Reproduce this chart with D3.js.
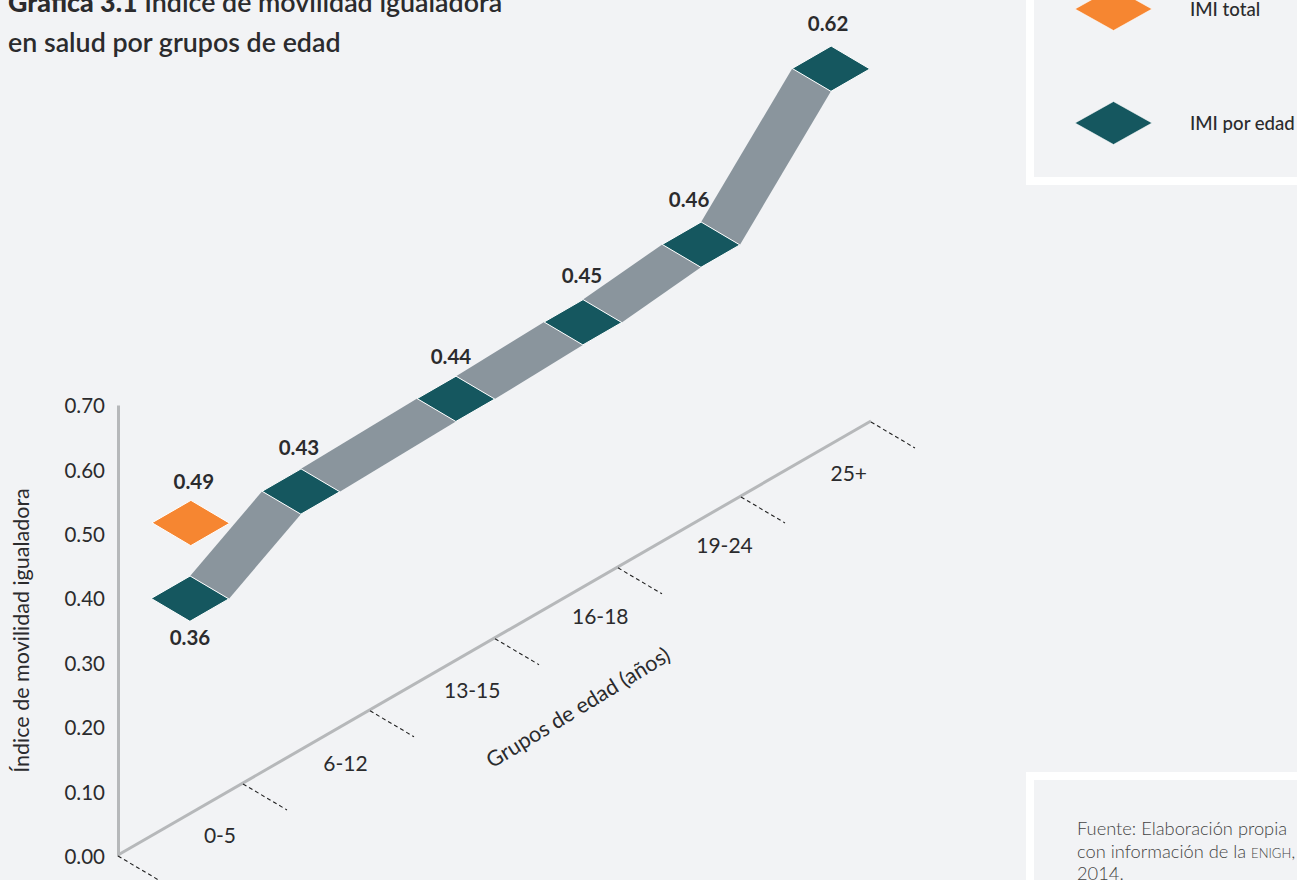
<!DOCTYPE html>
<html><head><meta charset="utf-8">
<script src="https://cdn.jsdelivr.net/npm/d3@7/dist/d3.min.js"></script>
<style>html,body{margin:0;padding:0;background:#f2f3f5;overflow:hidden}svg{display:block}text{font-family:Lato,sans-serif;fill:#2b2b2d}</style>
</head><body><svg id="c" width="1297" height="880"></svg>
<script>
// data
const categories = ["0-5","6-12","13-15","16-18","19-24","25+"];
const values = [0.36,0.43,0.44,0.45,0.46,0.62];
const totalValue = 0.49;
// where each group's marker falls on the floor grid (axis units)
const markerAlong = [0.457,1.328,2.542,3.533,4.495,5.517];
const markerDepth = [0.333,0.37,0.43,0.49,0.43,0.47];
const totalAlong = 0.405;
const totalDepth = 0.5;
const tickStops = [0,0.996,2.008,3.004,3.984,4.964,6];
const labelAlong = [0.49,1.49,2.5,3.52,4.51,5.5];
const yTicks = [0,0.1,0.2,0.3,0.4,0.5,0.6,0.7];

const teal="#15575f", orange="#f68631", gray="#8a959d", axisGray="#b6b8ba";
const svg=d3.select("#c");

// scales: oblique floor plane + vertical value
const y=d3.scaleLinear().domain([0,0.7]).range([856,405]);
const alongX=d3.scaleLinear().domain([0,6]).range([118,871]);
const alongY=d3.scaleLinear().domain([0,6]).range([855,421]);
const depthX=d3.scaleLinear().domain([0,1]).range([0,44]);
const depthY=d3.scaleLinear().domain([0,1]).range([0,26]);
const proj=(a,d,v)=>[alongX(a)+depthX(d), alongY(a)+depthY(d)-(y(0)-y(v))];
const HA=0.155, HD=0.44;
const corners=(a,d,v)=>({top:proj(a+HA,d-HD,v),right:proj(a+HA,d+HD,v),bottom:proj(a-HA,d+HD,v),left:proj(a-HA,d-HD,v)});
const line=d3.line();
const diamond=c=>line([c.top,c.right,c.bottom,c.left])+"Z";

// panels
svg.append("path").attr("d","M1030,-10V181H1307").attr("fill","none").attr("stroke","#fff").attr("stroke-width",8);
svg.append("path").attr("d","M1030,890V776H1307").attr("fill","none").attr("stroke","#fff").attr("stroke-width",8);

// title
const title=svg.append("text").attr("x",8).attr("y",12).attr("font-size",26.8).attr("font-weight",600);
title.append("tspan").attr("font-weight",900).text("Gráfica 3.1");
title.append("tspan").text(" Índice de movilidad igualadora");
svg.append("text").attr("x",8).attr("y",52).attr("font-size",26.8).attr("font-weight",600).text("en salud por grupos de edad");

// value axis
const ax=svg.append("g").attr("transform","translate(117,0)").call(d3.axisLeft(y).tickValues(yTicks).tickFormat(d3.format(".2f")).tickSize(0).tickPadding(12));
ax.select(".domain").attr("transform","translate(1,0)").attr("stroke",axisGray).attr("stroke-width",3);
ax.selectAll("text").attr("font-size",20.5).attr("font-family","Lato").attr("fill","#2b2b2d").attr("dy","0.37em");
svg.append("text").attr("transform","translate(29,630.5) rotate(-90)").attr("text-anchor","middle").attr("font-size",21.5).text("Índice de movilidad igualadora");

// age axis
svg.append("line").attr("x1",alongX(0)).attr("y1",alongY(0)).attr("x2",alongX(6)).attr("y2",alongY(6)).attr("stroke",axisGray).attr("stroke-width",3);
svg.selectAll(".tick2").data(tickStops).join("line")
  .attr("x1",d=>alongX(d)).attr("y1",d=>alongY(d)+1)
  .attr("x2",d=>alongX(d)+depthX(1)).attr("y2",d=>alongY(d)+1+depthY(1))
  .attr("stroke","#222").attr("stroke-width",1.1).attr("stroke-dasharray","4 3");
svg.selectAll(".cat").data(categories).join("text")
  .attr("text-anchor","middle").attr("font-size",21)
  .attr("x",(d,i)=>alongX(labelAlong[i])+depthX(0.92))
  .attr("y",(d,i)=>alongY(labelAlong[i])+depthY(0.92))
  .text(d=>d);
svg.append("text").attr("transform","translate(582,714) rotate(-31.4)").attr("text-anchor","middle").attr("font-size",21.6).text("Grupos de edad (años)");

// ribbons
d3.pairs(d3.range(values.length)).forEach(([i,j])=>{
  const a=corners(markerAlong[i],markerDepth[i],values[i]), b=corners(markerAlong[j],markerDepth[j],values[j]);
  svg.append("path").attr("d",line([a.top,a.right,b.bottom,b.left])+"Z").attr("fill",gray);
});
// markers
svg.selectAll(".m").data(values).join("path")
  .attr("d",(v,i)=>diamond(corners(markerAlong[i],markerDepth[i],v)))
  .attr("fill",teal).attr("stroke","#fff").attr("stroke-width",1);
svg.append("path").attr("d",diamond(corners(totalAlong,totalDepth,totalValue))).attr("fill",orange).attr("stroke","#fff").attr("stroke-width",1);

// value labels
const labelNudge=[[0,46],[-2,-37],[-5,-35],[-1,-39],[-12,-38],[-3,-38]];
svg.selectAll(".v").data(values).join("text")
  .attr("text-anchor","middle").attr("font-size",20.5).attr("font-weight",700)
  .attr("x",(v,i)=>proj(markerAlong[i],markerDepth[i],v)[0]+labelNudge[i][0])
  .attr("y",(v,i)=>proj(markerAlong[i],markerDepth[i],v)[1]+labelNudge[i][1])
  .text(d3.format(".2f"));
const tc=proj(totalAlong,totalDepth,totalValue);
svg.append("text").attr("text-anchor","middle").attr("font-size",20.5).attr("font-weight",700).attr("x",tc[0]+3).attr("y",tc[1]-34).text(d3.format(".2f")(totalValue));

// legend
const lg=[{c:orange,t:"IMI total",cy:9},{c:teal,t:"IMI por edad",cy:123}];
lg.forEach(l=>{
  svg.append("path").attr("d",line([[1113.5,l.cy-21.5],[1152,l.cy],[1113.5,l.cy+21.5],[1075,l.cy]])+"Z").attr("fill",l.c).attr("stroke","#fff").attr("stroke-width",.6);
  svg.append("text").attr("x",1190).attr("y",l.cy+7).attr("font-size",18.6).attr("font-weight",500).text(l.t);
});

// source
const src=[["Fuente: Elaboración propia"],["con información de la ","ENIGH",","],["2014."]];
src.forEach((ln,i)=>{
  const t=svg.append("text").attr("x",1077).attr("y",835+i*22.5).attr("font-size",18.3).attr("font-weight",300).style("fill","#444");
  ln.forEach((s,k)=>t.append("tspan").attr("font-size",k==1?13:18.3).text(s));
});
</script></body></html>
